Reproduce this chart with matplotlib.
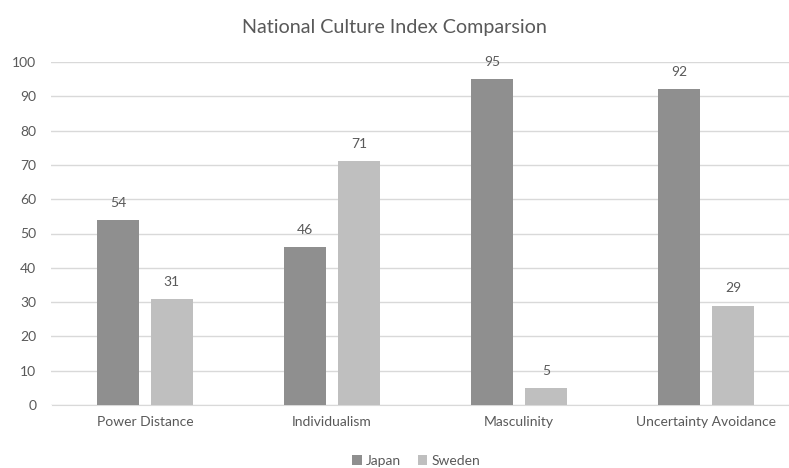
import matplotlib
matplotlib.use("Agg")
import matplotlib.pyplot as plt
import numpy as np

categories = ["Power Distance", "Individualism", "Masculinity", "Uncertainty Avoidance"]
japan = [54, 46, 95, 92]
sweden = [31, 71, 5, 29]
series_names = ["Japan", "Sweden"]
yticks = list(range(0, 101, 10))

W, H = 789, 468
fig = plt.figure(figsize=(W / 100, H / 100), dpi=100)
plt.rcParams['font.family'] = ['Lato', 'DejaVu Sans']
txt = "#595959"

left, right, bottom, top = 51.5, 789, 405, 62
ax = fig.add_axes([left / W, 1 - bottom / H, (right - left) / W, (bottom - top) / H])

x = np.arange(len(categories))
bw = 0.2246
off = 0.144
c_j, c_s = "#8f8f8f", "#bfbfbf"
b1 = ax.bar(x - off, japan, bw, color=c_j, label=series_names[0], zorder=3)
b2 = ax.bar(x + off, sweden, bw, color=c_s, label=series_names[1], zorder=3)

for bars, vals in ((b1, japan), (b2, sweden)):
    for r, v in zip(bars, vals):
        ax.annotate(str(v), (r.get_x() + r.get_width() / 2, v), xytext=(0, 8),
                    textcoords="offset points", ha="center", va="bottom",
                    fontsize=10, color=txt)

ax.set_xlim(-0.5, 3.5 - 10.5 / 187)
ax.set_ylim(0, 100)
ax.set_yticks(yticks)
ax.set_yticklabels([str(t) for t in yticks], fontsize=10, color=txt)
ax.set_xticks(x)
ax.set_xticklabels(categories, fontsize=10, color=txt)
ax.yaxis.grid(True, color="#d9d9d9", linewidth=1, zorder=0)
ax.tick_params(axis="both", length=0)
ax.tick_params(axis="y", pad=11)
ax.tick_params(axis="x", pad=8)
for s in ["top", "right", "left"]:
    ax.spines[s].set_visible(False)
ax.spines["bottom"].set_color("#d9d9d9")
ax.set_axisbelow(True)

fig.text(0.5, 1 - 27 / H, "National Culture Index Comparsion", ha="center", va="center",
         fontsize=14.2, color=txt)

fig.legend(handles=[b1, b2], loc="center", bbox_to_anchor=(416 / W, 1 - 461 / H), ncol=2,
           frameon=False, fontsize=10, labelcolor=txt, handlelength=0.7, handleheight=0.7,
           handletextpad=0.3, columnspacing=1.2)

fig.savefig("out.png", dpi=100)
